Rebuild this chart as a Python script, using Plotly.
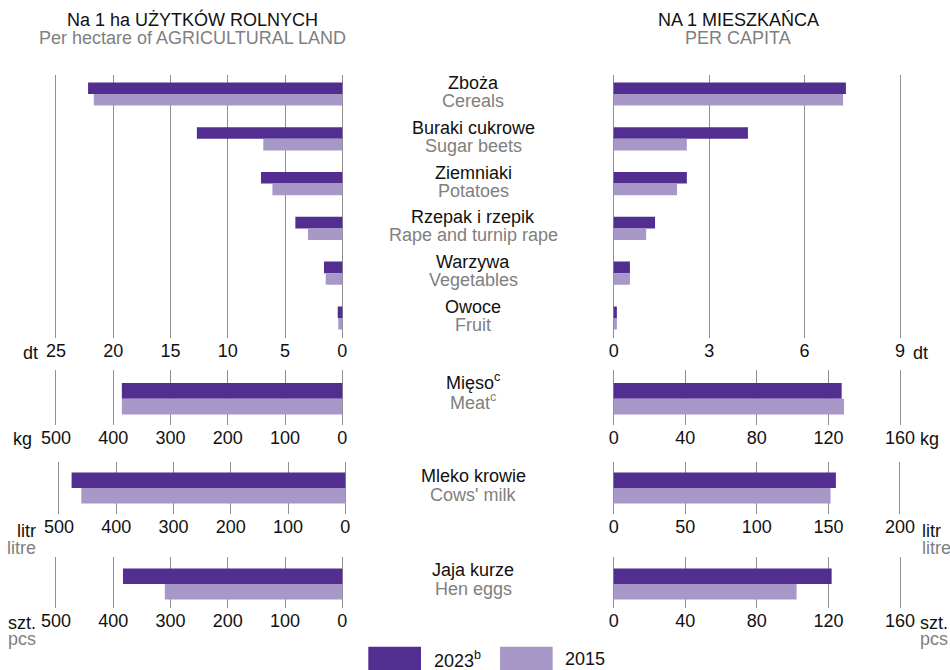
import plotly.graph_objects as go

W, H = 950, 670
FONT = "Liberation Sans, Arial, sans-serif"
FS = 18
DARK = "#522E91"
LIGHT = "#A898C8"
GRID = "#8f8f8f"
GRAY_TXT = "#808080"

# ---------------- data ----------------
crops_key = ["Cereals", "Sugar beets", "Potatoes", "Rape and turnip rape", "Vegetables", "Fruit"]
crops_pl = ["Zboża", "Buraki cukrowe", "Ziemniaki", "Rzepak i rzepik", "Warzywa", "Owoce"]
crops_en = ["Cereals", "Sugar beets", "Potatoes", "Rape and turnip rape", "Vegetables", "Fruit"]
crops_ha_2023 = [22.2, 12.7, 7.1, 4.1, 1.6, 0.4]
crops_ha_2015 = [21.7, 6.9, 6.1, 3.0, 1.45, 0.35]
crops_pc_2023 = [7.3, 4.22, 2.3, 1.3, 0.51, 0.1]
crops_pc_2015 = [7.21, 2.3, 1.99, 1.02, 0.51, 0.1]

anim_key = ["Meat", "Cows' milk", "Hen eggs"]
anim_pl = ["Mięso<sup>c</sup>", "Mleko krowie", "Jaja kurze"]
anim_en = ["Meat<sup>c</sup>", "Cows' milk", "Hen eggs"]
anim_ha_2023 = [385, 478, 383]
anim_ha_2015 = [385, 461, 310]
anim_pc_2023 = [127.4, 155.2, 121.8]
anim_pc_2015 = [128.7, 151.5, 102.2]

left_ticks = [[0, 5, 10, 15, 20, 25], [0, 100, 200, 300, 400, 500],
              [0, 100, 200, 300, 400, 500], [0, 100, 200, 300, 400, 500]]
right_ticks = [[0, 3, 6, 9], [0, 40, 80, 120, 160], [0, 50, 100, 150, 200], [0, 40, 80, 120, 160]]
units_pl = ["dt", "kg", "litr", "szt."]
units_en = ["", "", "litre", "pcs"]
years = ["2023<sup>b</sup>", "2015"]

# ---------------- geometry (pixels) ----------------
rows_geo = [
    dict(top=75, bot=338, c0=94, pitch=44.8, bw=11.6),
    dict(top=370, bot=425, c0=398.7, pitch=55.0, bw=15.7),
    dict(top=461.7, bot=514, c0=488, pitch=52.3, bw=15.5),
    dict(top=556.7, bot=608, c0=584, pitch=51.3, bw=15.5),
]
left_geo = [
    dict(px0=342.3, s=-286.3 / 25, rng=[25.4, -0.15]),
    dict(px0=342.3, s=-286.3 / 500, rng=[508, -3]),
    dict(px0=345.3, s=-286.3 / 500, rng=[508, -3]),
    dict(px0=342.3, s=-286.3 / 500, rng=[508, -3]),
]
right_geo = [
    dict(px0=613.7, s=286.3 / 9, rng=[-0.06, 9.15]),
    dict(px0=613.7, s=286.3 / 160, rng=[-1, 162.5]),
    dict(px0=613.7, s=286.3 / 200, rng=[-1.3, 203]),
    dict(px0=613.7, s=286.3 / 160, rng=[-1, 162.5]),
]


def xdom(g):
    a = g["px0"] + g["rng"][0] * g["s"]
    b = g["px0"] + g["rng"][1] * g["s"]
    return [min(a, b) / W, max(a, b) / W]


def ydom(g):
    return [1 - g["bot"] / H, 1 - g["top"] / H]


def yrange(g):
    lo = (g["top"] - g["c0"]) / g["pitch"]
    hi = (g["bot"] - g["c0"]) / g["pitch"]
    return [hi, lo]


fig = go.Figure()
layout = dict(
    width=W, height=H, margin=dict(l=0, r=0, t=0, b=0, pad=0, autoexpand=False),
    paper_bgcolor="white", plot_bgcolor="rgba(0,0,0,0)",
    barmode="overlay", showlegend=False,
    font=dict(family=FONT, size=FS, color="#111111"),
)
annotations = []
shapes = []

row_data = [(crops_key, crops_ha_2023, crops_ha_2015, crops_pc_2023, crops_pc_2015)]
for i in range(3):
    row_data.append(([anim_key[i]], [anim_ha_2023[i]], [anim_ha_2015[i]],
                     [anim_pc_2023[i]], [anim_pc_2015[i]]))

pl_shift = [None, 17, 12, 14]
en_shift = [None, -3, -7, -5]

for r, (cats, ha23, ha15, pc23, pc15) in enumerate(row_data):
    g = rows_geo[r]
    yid = "y" if r == 0 else f"y{r + 1}"
    yname = "yaxis" if r == 0 else f"yaxis{r + 1}"
    xl = 2 * r + 1
    xr = 2 * r + 2
    xl_id = "x" if xl == 1 else f"x{xl}"
    xl_name = "xaxis" if xl == 1 else f"xaxis{xl}"
    xr_id = f"x{xr}"
    xr_name = f"xaxis{xr}"
    w = g["bw"] / g["pitch"]

    for xid, v23, v15 in ((xl_id, ha23, ha15), (xr_id, pc23, pc15)):
        fig.add_trace(go.Bar(orientation="h", x=v23, y=cats, width=w, offset=-w,
                             marker=dict(color=DARK, line=dict(width=0)),
                             xaxis=xid, yaxis=yid, name=years[0]))
        fig.add_trace(go.Bar(orientation="h", x=v15, y=cats, width=w, offset=0,
                             marker=dict(color=LIGHT, line=dict(width=0)),
                             xaxis=xid, yaxis=yid, name=years[1]))

    layout[yname] = dict(domain=ydom(g), range=yrange(g), type="category",
                         categoryorder="array", categoryarray=cats,
                         showgrid=False, showticklabels=False, zeroline=False,
                         showline=False, ticks="", anchor=xl_id, automargin=False,
                         fixedrange=True)
    lg, rg = left_geo[r], right_geo[r]
    common = dict(showgrid=True, gridcolor=GRID, gridwidth=1.3, zeroline=False,
                  showline=False, ticks="", tickmode="array", automargin=False,
                  tickfont=dict(family=FONT, size=FS, color="#111111"),
                  anchor=yid, fixedrange=True)
    layout[xl_name] = dict(domain=xdom(lg), range=lg["rng"], tickvals=left_ticks[r],
                           ticktext=[str(t) for t in left_ticks[r]], **common)
    layout[xr_name] = dict(domain=xdom(rg), range=rg["rng"], tickvals=right_ticks[r],
                           ticktext=[str(t) for t in right_ticks[r]], **common)

    if r == 0:
        for k, key in enumerate(cats):
            annotations.append(dict(xref="paper", yref=yid, x=473 / W, y=key, yshift=11,
                                    text=crops_pl[k], showarrow=False, xanchor="center",
                                    font=dict(size=FS, color="#111111")))
            annotations.append(dict(xref="paper", yref=yid, x=473 / W, y=key, yshift=-7,
                                    text=crops_en[k], showarrow=False, xanchor="center",
                                    font=dict(size=FS, color=GRAY_TXT)))
    else:
        key = cats[0]
        annotations.append(dict(xref="paper", yref=yid, x=473 / W, y=key, yshift=pl_shift[r],
                                text=anim_pl[r - 1], showarrow=False, xanchor="center",
                                font=dict(size=FS, color="#111111")))
        annotations.append(dict(xref="paper", yref=yid, x=473 / W, y=key, yshift=en_shift[r],
                                text=anim_en[r - 1], showarrow=False, xanchor="center",
                                font=dict(size=FS, color=GRAY_TXT)))

tick_y = [352.5, 439, 531, 623]
sub_y = [None, None, 548, 639]
left_unit_x = [40, 34, 38, 38]
right_unit_x = [911, 918, 920, 918]
for r in range(4):
    annotations.append(dict(xref="paper", yref="paper", x=left_unit_x[r] / W, y=1 - tick_y[r] / H,
                            text=units_pl[r], showarrow=False, xanchor="right", yanchor="middle",
                            font=dict(size=FS, color="#111111")))
    annotations.append(dict(xref="paper", yref="paper", x=right_unit_x[r] / W, y=1 - tick_y[r] / H,
                            text=units_pl[r], showarrow=False, xanchor="left", yanchor="middle",
                            font=dict(size=FS, color="#111111")))
    if units_en[r]:
        annotations.append(dict(xref="paper", yref="paper", x=left_unit_x[r] / W, y=1 - sub_y[r] / H,
                                text=units_en[r], showarrow=False, xanchor="right", yanchor="middle",
                                font=dict(size=FS, color=GRAY_TXT)))
        annotations.append(dict(xref="paper", yref="paper", x=right_unit_x[r] / W, y=1 - sub_y[r] / H,
                                text=units_en[r], showarrow=False, xanchor="left", yanchor="middle",
                                font=dict(size=FS, color=GRAY_TXT)))

for x, t1, t2 in ((192.5, "Na 1 ha UŻYTKÓW ROLNYCH", "Per hectare of AGRICULTURAL LAND"),
                  (738, "NA 1 MIESZKAŃCA", "PER CAPITA")):
    annotations.append(dict(xref="paper", yref="paper", x=x / W, y=1 - 19.5 / H, text=t1,
                            showarrow=False, xanchor="center", yanchor="middle",
                            font=dict(size=FS, color="#111111")))
    annotations.append(dict(xref="paper", yref="paper", x=x / W, y=1 - 38.5 / H, text=t2,
                            showarrow=False, xanchor="center", yanchor="middle",
                            font=dict(size=FS, color=GRAY_TXT)))

for (x0, x1, tx), col, lab in (((368.3, 421, 431.7), DARK, years[0]),
                               ((500, 552.7, 562.7), LIGHT, years[1])):
    shapes.append(dict(type="rect", xref="paper", yref="paper", x0=x0 / W, x1=x1 / W,
                       y0=0, y1=1 - 646.7 / H, fillcolor=col, line=dict(width=0)))
    annotations.append(dict(xref="paper", yref="paper", x=tx / W, y=1 - 659 / H, text=lab,
                            showarrow=False, xanchor="left", yanchor="middle",
                            font=dict(size=FS, color="#111111")))

layout["annotations"] = annotations
layout["shapes"] = shapes
fig.update_layout(**layout)
fig.write_html("out.html",
               config={"displayModeBar": False},
               post_script="document.body.style.margin='0';"
                           "document.body.style.overflow='hidden';")
